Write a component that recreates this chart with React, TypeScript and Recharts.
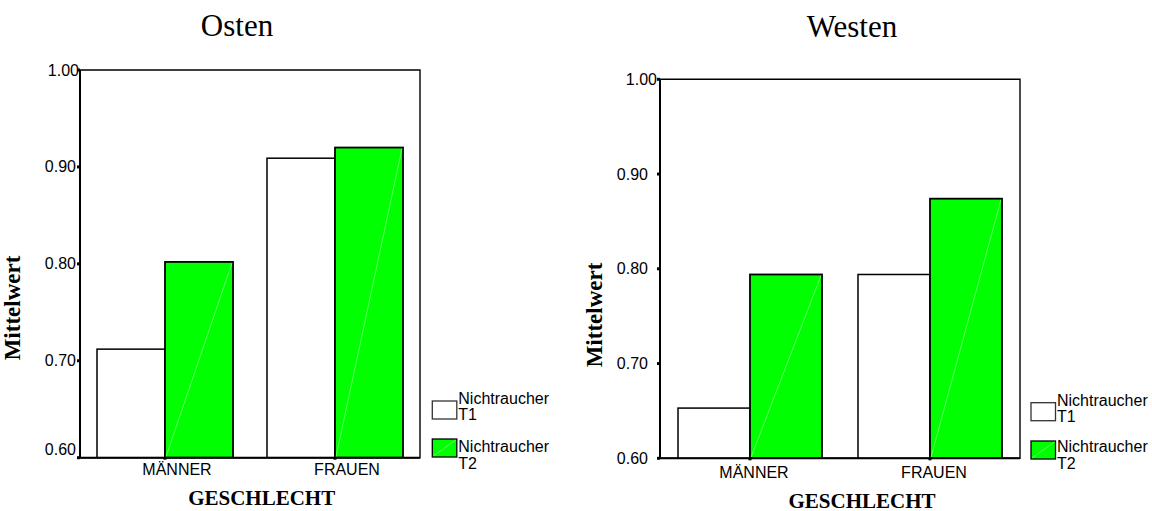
import React from 'react';
import { BarChart, Bar, XAxis, YAxis, ReferenceArea } from 'recharts';

const categories = ['MÄNNER', 'FRAUEN'];
const seriesNames = ['Nichtraucher T1', 'Nichtraucher T2'];
const seriesColors = ['#ffffff', '#00ff00'];
const ostenT1 = [0.712, 0.909];
const ostenT2 = [0.802, 0.92];
const westenT1 = [0.653, 0.794];
const westenT2 = [0.794, 0.874];
const yTicks = [0.6, 0.7, 0.8, 0.9, 1.0];

const ostenData = categories.map((c, i) => ({ cat: c, t1: ostenT1[i], t2: ostenT2[i] }));
const westenData = categories.map((c, i) => ({ cat: c, t1: westenT1[i], t2: westenT2[i] }));

const SANS = '"Liberation Sans", Arial, sans-serif';
const SERIF = '"Liberation Serif", "Times New Roman", serif';

const WhiteBar = (props: any) => {
  const { x, y, width, height } = props;
  return <rect x={x} y={y} width={width} height={height} fill="#ffffff" stroke="#000" strokeWidth={1.5} />;
};

const GreenBar = (props: any) => {
  const { x, y, width, height } = props;
  return (
    <g>
      <rect x={x} y={y} width={width} height={height} fill="#00ff00" stroke="#000" strokeWidth={1.8} />
      <line x1={x + 1} y1={y + height - 1} x2={x + width - 1} y2={y + 1} stroke="#a8ffa8" strokeWidth={0.6} />
    </g>
  );
};

const makeYTick = (topDx: number, bottomDy: number) => (props: any) => {
  const { x, y, payload } = props;
  const v = payload.value as number;
  const dx = Math.abs(v - 1) < 1e-9 ? topDx : 0;
  const dy = Math.abs(v - 0.6) < 1e-9 ? bottomDy : 0;
  return (
    <text x={x + dx} y={y + dy} textAnchor="end" dominantBaseline="central" fontFamily={SANS} fontSize={16} fill="#000">
      {v.toFixed(2)}
    </text>
  );
};

const makeXTick = (dx: number) => (props: any) => {
  const { x, y, payload } = props;
  return (
    <text x={x + dx} y={y} dy="0.71em" textAnchor="middle" fontFamily={SANS} fontSize={16} fill="#000">
      {payload.value}
    </text>
  );
};

type PanelProps = {
  data: any[];
  left: number;
  width: number;
  top: number;
  bottom: number;
  yTickMargin: number;
  topDx: number;
  bottomDy: number;
  xTickMargin: number;
  xDx: number;
};

const Panel = ({ data, left, width, top, bottom, yTickMargin, topDx, bottomDy, xTickMargin, xDx }: PanelProps) => {
  const H = 511;
  return (
    <div style={{ position: 'absolute', left, top: 0 }}>
      <BarChart
        width={width}
        height={H}
        data={data}
        margin={{ top, right: 20, bottom: H - bottom - 30, left: 30 }}
        barCategoryGap="10%"
        barGap={0}
      >
        <ReferenceArea y1={0.6} y2={1.0} fill="none" stroke="#000" strokeWidth={1.4} ifOverflow="visible" />
        <XAxis
          dataKey="cat"
          height={30}
          axisLine={{ stroke: '#000', strokeWidth: 2 }}
          tickLine={{ stroke: '#000', strokeWidth: 3 }}
          tickSize={2}
          tickMargin={xTickMargin}
          tick={makeXTick(xDx)}
        />
        <YAxis
          width={50}
          domain={[0.6, 1.0]}
          ticks={yTicks}
          allowDataOverflow
          axisLine={{ stroke: '#000', strokeWidth: 2 }}
          tickLine={{ stroke: '#000', strokeWidth: 3 }}
          tickSize={3}
          tickMargin={yTickMargin}
          tick={makeYTick(topDx, bottomDy)}
        />
        <Bar dataKey="t1" name={seriesNames[0]} fill={seriesColors[0]} shape={WhiteBar} isAnimationActive={false} />
        <Bar dataKey="t2" name={seriesNames[1]} fill={seriesColors[1]} shape={GreenBar} isAnimationActive={false} />
      </BarChart>
    </div>
  );
};

type LegendProps = { x: number; boxYs: number[]; textOffsets: number[]; lineGaps: number[] };

const LegendBlock = ({ x, boxYs, textOffsets, lineGaps }: LegendProps) => {
  const boxW = 24.5;
  const boxH = 18;
  return (
    <g>
      {seriesNames.map((name, i) => {
        const [a, b] = name.split(' ');
        const by = boxYs[i];
        const ty = by + textOffsets[i];
        return (
          <g key={name}>
            <rect x={x} y={by} width={boxW} height={boxH} fill={seriesColors[i]} stroke={i === 0 ? '#333' : '#000'} strokeWidth={1.3} />
            {i === 1 && <line x1={x + 1} y1={by + boxH - 1} x2={x + boxW - 1} y2={by + 1} stroke="#a8ffa8" strokeWidth={0.6} />}
            <text x={x + boxW + 1.5} y={ty} fontFamily={SANS} fontSize={16} fill="#000">{a}</text>
            <text x={x + boxW + 1.5} y={ty + lineGaps[i]} fontFamily={SANS} fontSize={16} fill="#000">{b}</text>
          </g>
        );
      })}
    </g>
  );
};

export default function App() {
  return (
    <div style={{ position: 'absolute', left: 0, top: 0, width: 1152, height: 511, background: '#fff', overflow: 'hidden' }}>
      <Panel data={ostenData} left={0} width={440} top={70} bottom={457.7} yTickMargin={1} topDx={3} bottomDy={-8} xTickMargin={4} xDx={12} />
      <Panel data={westenData} left={580} width={460} top={79.3} bottom={458.3} yTickMargin={9} topDx={9} bottomDy={0} xTickMargin={6} xDx={4} />
      <svg width={1152} height={511} style={{ position: 'absolute', left: 0, top: 0, pointerEvents: 'none' }}>
        <text x={237} y={36} textAnchor="middle" fontFamily={SERIF} fontSize={31} fill="#000">Osten</text>
        <text x={852} y={36.5} textAnchor="middle" fontFamily={SERIF} fontSize={31} fill="#000">Westen</text>
        <text transform="translate(20,308) rotate(-90)" textAnchor="middle" fontFamily={SERIF} fontSize={23} fontWeight="bold" fill="#000">Mittelwert</text>
        <text transform="translate(602,315) rotate(-90)" textAnchor="middle" fontFamily={SERIF} fontSize={23} fontWeight="bold" fill="#000">Mittelwert</text>
        <text x={261.7} y={505} textAnchor="middle" fontFamily={SERIF} fontSize={21} fontWeight="bold" fill="#000">GESCHLECHT</text>
        <text x={862} y={507.5} textAnchor="middle" fontFamily={SERIF} fontSize={21} fontWeight="bold" fill="#000">GESCHLECHT</text>
        <LegendBlock x={432.3} boxYs={[401, 439]} textOffsets={[2.5, 12.5]} lineGaps={[16, 17.5]} />
        <LegendBlock x={1031} boxYs={[402.7, 441]} textOffsets={[2.8, 11]} lineGaps={[16, 17]} />
      </svg>
    </div>
  );
}
